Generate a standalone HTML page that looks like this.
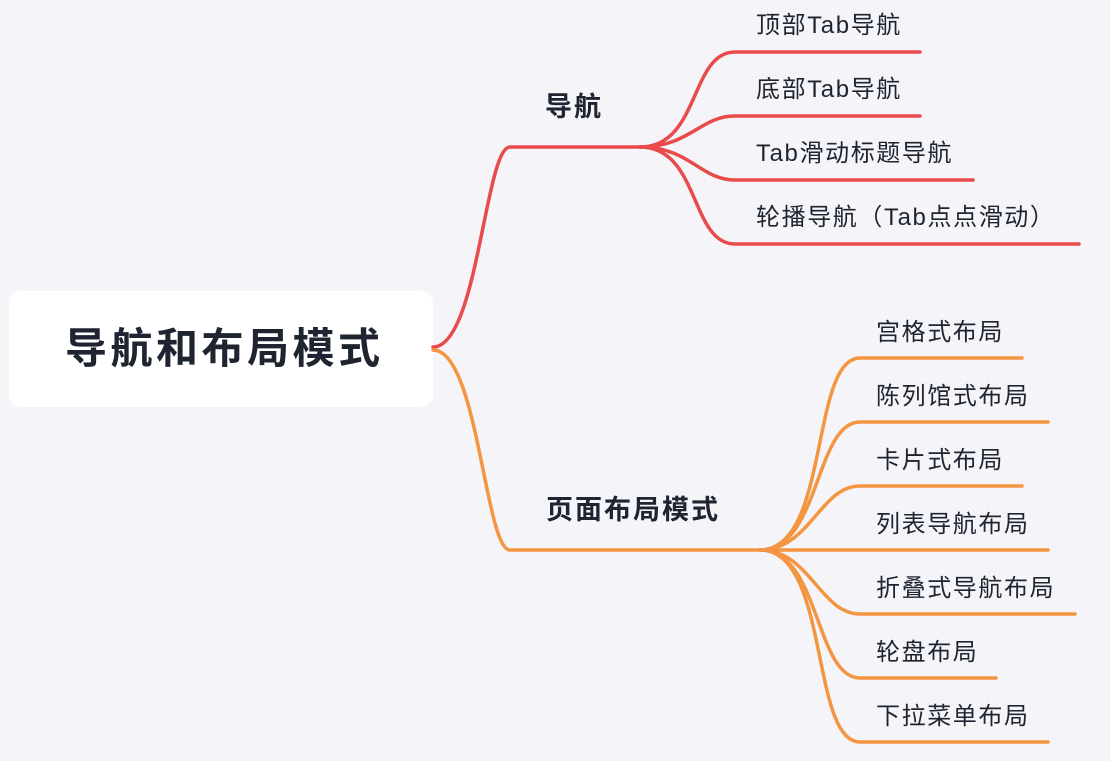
<!DOCTYPE html>
<html><head><meta charset="utf-8"><style>
body{margin:0;width:1110px;height:761px;background:#f4f4f9;overflow:hidden;position:relative;font-family:"Liberation Sans","Noto Sans CJK SC",sans-serif;color:#1e2430}
.box{position:absolute;left:9px;top:291px;width:424px;height:116px;background:#fff;border-radius:12px}
.t{position:absolute;white-space:nowrap;line-height:1}
.c{font-size:24px;letter-spacing:1.6px}
svg{position:absolute;left:0;top:0}
</style></head><body>
<div class="box"></div>
<svg width="1110" height="761" fill="none" stroke-width="3.5" stroke-linecap="round">
<g stroke="#e94a4a">
<path d="M433 347 C478 347 485 147 510 147 L650 147"/>
<path d="M640 147 C700 147 690 52 735 52 L920 52"/>
<path d="M640 147 C690 147 700 116 735 116 L920 116"/>
<path d="M640 147 C690 147 700 180 735 180 L973 180"/>
<path d="M640 147 C700 147 690 244 735 244 L1079 244"/>
</g>
<g stroke="#f39541">
<path d="M433 350 C478 350 485 550 510 550 L770 550"/>
<path d="M760 550 C830 550 810 358 860 358 L1022 358"/>
<path d="M760 550 C820 550 815 422 860 422 L1048 422"/>
<path d="M760 550 C810 550 820 486 860 486 L1022 486"/>
<path d="M760 550 L1048 550"/>
<path d="M760 550 C810 550 820 614 860 614 L1075 614"/>
<path d="M760 550 C820 550 815 678 860 678 L996 678"/>
<path d="M760 550 C830 550 810 742 860 742 L1048 742"/>
</g>
</svg>
<div class="t" style="left:65px;top:328px;font-size:42px;letter-spacing:3.5px;font-weight:bold">导航和布局模式</div>
<div class="t" style="left:545px;top:94px;font-size:27px;letter-spacing:2px;font-weight:bold">导航</div>
<div class="t" style="left:546px;top:497px;font-size:27px;letter-spacing:2px;font-weight:bold">页面布局模式</div>
<div class="t c" style="left:756px;top:14px">顶部Tab导航</div>
<div class="t c" style="left:756px;top:78px">底部Tab导航</div>
<div class="t c" style="left:756px;top:142px">Tab滑动标题导航</div>
<div class="t c" style="left:756px;top:206px">轮播导航（Tab点点滑动）</div>
<div class="t c" style="left:876px;top:321px">宫格式布局</div>
<div class="t c" style="left:876px;top:385px">陈列馆式布局</div>
<div class="t c" style="left:876px;top:449px">卡片式布局</div>
<div class="t c" style="left:876px;top:513px">列表导航布局</div>
<div class="t c" style="left:876px;top:577px">折叠式导航布局</div>
<div class="t c" style="left:876px;top:641px">轮盘布局</div>
<div class="t c" style="left:876px;top:705px">下拉菜单布局</div>
</body></html>
